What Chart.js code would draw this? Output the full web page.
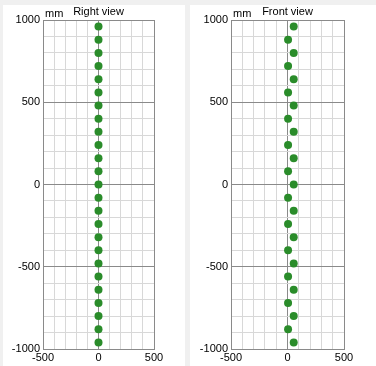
<!DOCTYPE html>
<html>
<head>
<meta charset="utf-8">
<script src="https://cdn.jsdelivr.net/npm/chart.js@4/dist/chart.umd.min.js"></script>
<style>
  body { margin: 0; background: #f0f0f0; width: 376px; height: 366px; overflow: hidden; position: relative; }
  .panel { position: absolute; background: #fff; }
</style>
</head>
<body>
<div class="panel" style="left:3px;top:5px;width:182px;height:361px"><canvas id="vistaDerecha" width="182" height="361"></canvas></div>
<div class="panel" style="left:190px;top:5px;width:186px;height:361px"><canvas id="vistaFrontal" width="186" height="361"></canvas></div>
<script>
// alturas de los puntos (mm)
const alturas = [960, 880, 800, 720, 640, 560, 480, 400, 320, 240, 160, 80, 0,
  -80, -160, -240, -320, -400, -480, -560, -640, -720, -800, -880, -960];
// desplazamiento horizontal en cada vista
const xDerecha = [0, 0, 0, 0, 0, 0, 0, 0, 0, 0, 0, 0, 0,
  0, 0, 0, 0, 0, 0, 0, 0, 0, 0, 0, 0];
const xFrontal = [55, 5, 55, 5, 55, 5, 55, 5, 55, 5, 55, 5, 55,
  5, 55, 5, 55, 5, 55, 5, 55, 5, 55, 5, 55];
const titulos = ["Right view", "Front view"];
const unidad = "mm";
const marcasY = [-1000, -500, 0, 500, 1000];
const marcasX = [-500, 0, 500];

const fuente = { family: "'Liberation Sans', Arial, sans-serif", size: 11 };

function colorRejilla(ctx) {
  return ctx.tick && ctx.tick.value % 500 === 0 ? '#8a8a8a' : '#d8d8d8';
}

function crearVista(id, xs, titulo, anchoY, padDer) {
  const puntos = alturas.map((y, i) => ({ x: xs[i], y: y }));
  const rotulos = {
    id: 'rotulos',
    afterDraw(chart) {
      const c = chart.ctx;
      const area = chart.chartArea;
      c.save();
      c.fillStyle = '#000';
      c.font = "11px 'Liberation Sans', Arial, sans-serif";
      c.textBaseline = 'alphabetic';
      c.textAlign = 'center';
      c.fillText(titulo, (area.left + area.right) / 2, 10);
      c.textAlign = 'left';
      c.fillText(unidad, area.left + 2, 12);
      c.restore();
    }
  };
  return new Chart(document.getElementById(id), {
    type: 'scatter',
    data: {
      datasets: [{
        data: puntos,
        backgroundColor: '#2a8c2a',
        borderColor: '#2a8c2a',
        pointRadius: 4,
        pointBorderWidth: 0
      }]
    },
    options: {
      responsive: false,
      animation: false,
      layout: { padding: { top: 15, right: padDer, left: 0, bottom: 0 } },
      plugins: { legend: { display: false }, tooltip: { enabled: false } },
      scales: {
        x: {
          min: -500, max: 500,
          afterFit(s) { s.height = 17; },
          ticks: {
            stepSize: 100, autoSkip: false, maxRotation: 0, padding: 2,
            color: '#000', font: fuente,
            callback: v => marcasX.includes(v) ? String(v) : ''
          },
          grid: { color: colorRejilla, drawTicks: false },
          border: { color: '#8a8a8a' }
        },
        y: {
          min: -1000, max: 1000,
          afterFit(s) { s.width = anchoY; },
          ticks: {
            stepSize: 100, autoSkip: false, padding: 3,
            color: '#000', font: fuente,
            callback: v => marcasY.includes(v) ? String(v) : ''
          },
          grid: { color: colorRejilla, drawTicks: false },
          border: { color: '#8a8a8a' }
        }
      }
    },
    plugins: [rotulos]
  });
}

crearVista('vistaDerecha', xDerecha, titulos[0], 40, 31);
crearVista('vistaFrontal', xFrontal, titulos[1], 41, 32);
</script>
</body>
</html>
